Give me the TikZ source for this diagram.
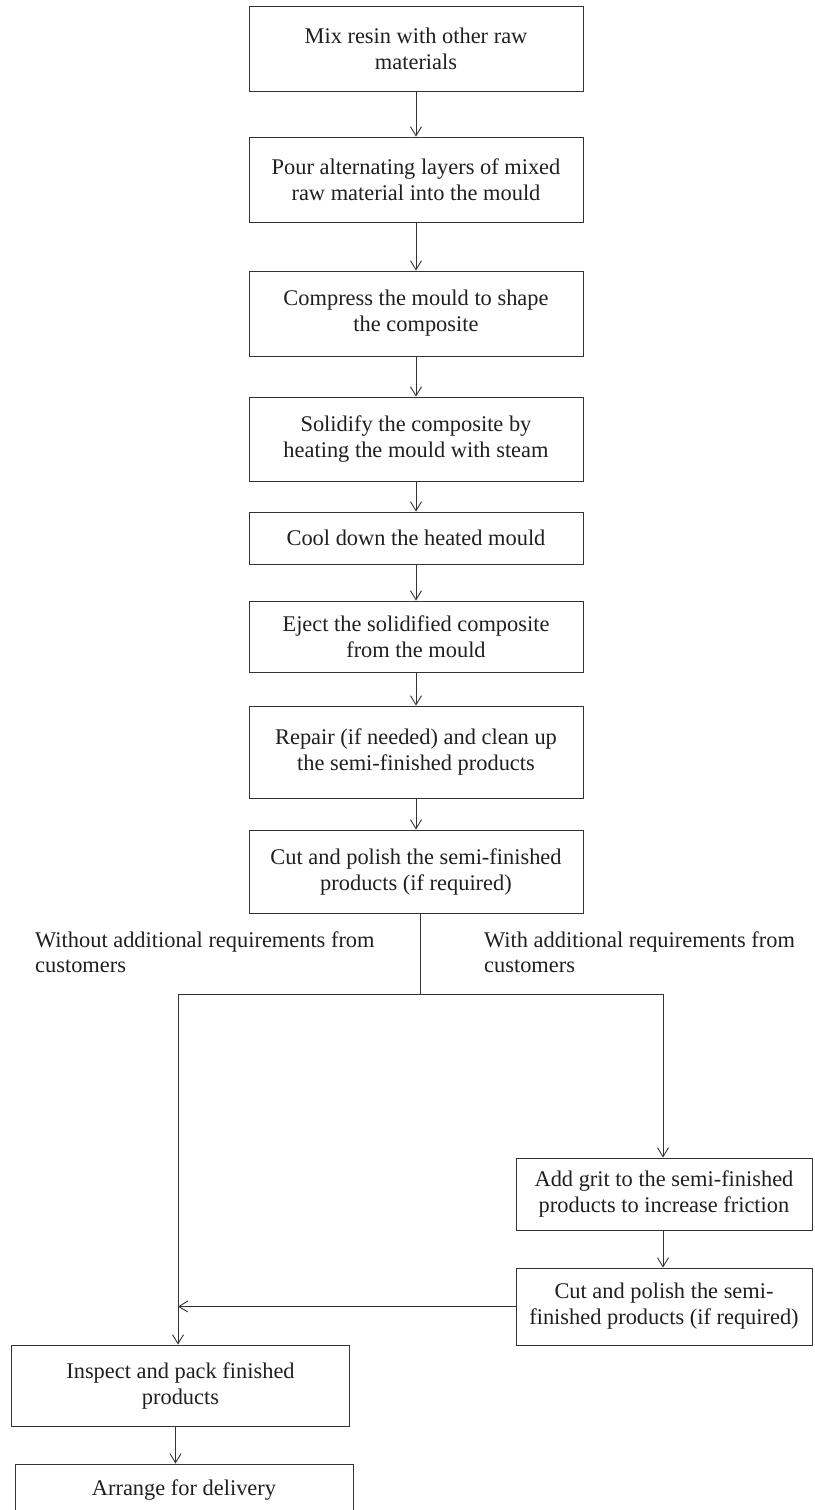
\documentclass[tikz,border=0pt]{standalone}
\usepackage{fontspec}
\setmainfont{Liberation Serif}
\usetikzlibrary{arrows.meta}
\begin{document}
\begin{tikzpicture}[x=1pt,y=-1pt,
  line/.style={draw=black!80, line width=0.9pt},
  arr/.style={line, -{Straight Barb[length=9pt,width=11pt]}},
  stepbox/.style={line, align=center, inner sep=0pt, text=black!88,
    font=\fontsize{22.4}{26}\selectfont},
  mainbox/.style={stepbox, minimum width=334pt},
  sidebox/.style={stepbox, minimum width=296pt},
  endbox/.style={stepbox, minimum width=338pt},
  branch/.style={align=left, inner sep=0pt, anchor=north west, text=black!88,
    font=\fontsize{22.4}{25}\selectfont}]
\useasboundingbox (0,0) rectangle (814,1510);
\clip (0,0) rectangle (814,1510);

% main sequence of process steps
\node[mainbox, minimum height=85pt] (b1) at (416,48.5) {Mix resin with other raw\\materials};
\node[mainbox, minimum height=85pt] (b2) at (416,179.5) {Pour alternating layers of mixed\\raw material into the mould};
\node[mainbox, minimum height=85pt] (b3) at (416,313.5) {Compress the mould to shape\\the composite};
\node[mainbox, minimum height=84pt] (b4) at (416,439) {Solidify the composite by\\heating the mould with steam};
\node[mainbox, minimum height=52pt] (b5) at (416,538) {Cool down the heated mould};
\node[mainbox, minimum height=71pt] (b6) at (416,636.5) {Eject the solidified composite\\from the mould};
\node[mainbox, minimum height=92pt] (b7) at (416,752) {Repair (if needed) and clean up\\the semi-finished products};
\node[mainbox, minimum height=83pt] (b8) at (416,871.5) {Cut and polish the semi-finished\\products (if required)};

\draw[arr] (b1) -- (b2);
\draw[arr] (b2) -- (b3);
\draw[arr] (b3) -- (b4);
\draw[arr] (b4) -- (b5);
\draw[arr] (b5) -- (b6);
\draw[arr] (b6) -- (b7);
\draw[arr] (b7) -- (b8);

% branch labels
\node[branch] (lw) at (35,931.7) {Without additional requirements from\\customers};
\node[branch] (lr) at (484,931.7) {With additional requirements from\\customers};

% split into two routes
\coordinate (j) at (420,994);
\coordinate (jl) at (178,994);
\coordinate (jr) at (663,994);
\draw[line] (b8.south -| j) -- (j);
\draw[line] (jl) -- (jr);

% route with extra customer requirements
\node[sidebox, minimum height=72pt] (g1) at (664,1194) {Add grit to the semi-finished\\products to increase friction};
\node[sidebox, minimum height=77pt] (g2) at (664,1306.5) {Cut and polish the semi-\\finished products (if required)};
\draw[arr] (jr) -- (jr |- g1.north);
\draw[arr] (g1.south -| jr) -- (g2.north -| jr);
\draw[arr] (g2.west) -- (g2.west -| jl);

% final steps
\node[endbox, minimum height=81pt] (f1) at (180.5,1385.5) {Inspect and pack finished\\products};
\node[endbox, minimum height=52pt] (f2) at (184,1490) {Arrange for delivery};
\draw[arr] (jl) -- (jl |- f1.north);
\draw[arr] ([xshift=-5pt]f1.south) -- ([xshift=-5pt]f1.south |- f2.north);
\end{tikzpicture}
\end{document}
